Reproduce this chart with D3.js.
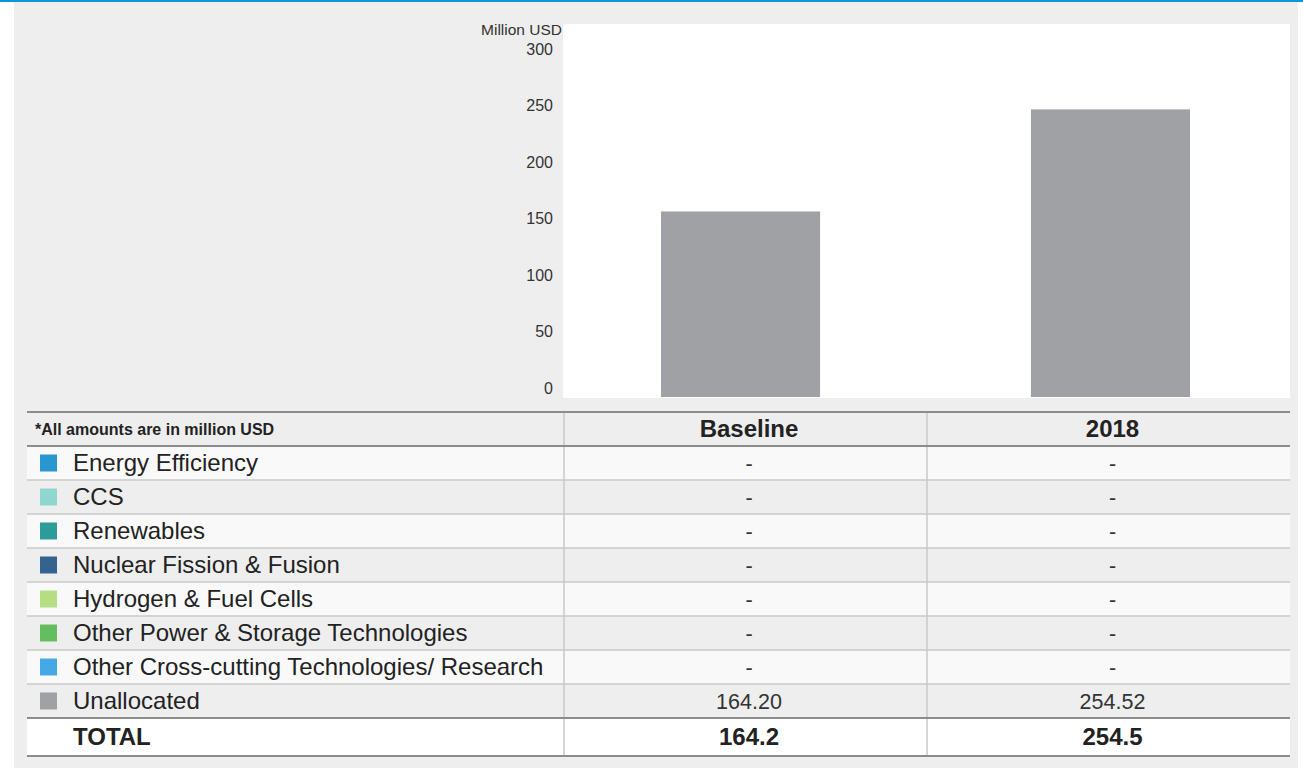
<!DOCTYPE html>
<meta charset="utf-8">
<style>
body { margin: 0; background: #fff; }
svg { display: block; font-family: "Liberation Sans", Arial, sans-serif; }
.axis text { fill: #333; font-size: 16px; }
.axis path, .axis line { display: none; }
</style>
<body>
<svg width="1303" height="768"></svg>
<script src="https://cdn.jsdelivr.net/npm/d3@7"></script>
<script>

// Chart data
var years = ["Baseline", "2018"];
var categories = ["Energy Efficiency", "CCS", "Renewables", "Nuclear Fission & Fusion",
  "Hydrogen & Fuel Cells", "Other Power & Storage Technologies",
  "Other Cross-cutting Technologies/ Research", "Unallocated"];
var categoryColors = ["#2a96d0", "#8fd5d0", "#2e9b9b", "#35638f",
  "#b5dd83", "#64bd5f", "#45a9e5", "#a0a1a5"];
var baselineValues = [null, null, null, null, null, null, null, 164.20];
var values2018 = [null, null, null, null, null, null, null, 254.52];
var yTicks = [0, 50, 100, 150, 200, 250, 300];

var totals = [d3.sum(baselineValues), d3.sum(values2018)];

var svg = d3.select("svg");

// page background and top rule
svg.append("rect").attr("x", 14).attr("y", 0).attr("width", 1284).attr("height", 768).attr("fill", "#eeeeee");
svg.append("rect").attr("x", 0).attr("y", 0).attr("width", 1303).attr("height", 2).attr("fill", "#0a96d8");

// plot area
var plot = {left: 563, right: 1290, top: 24, bottom: 397};
svg.append("rect")
  .attr("x", plot.left).attr("y", plot.top)
  .attr("width", plot.right - plot.left).attr("height", plot.bottom - plot.top + 1)
  .attr("fill", "#fff");

var x = d3.scaleBand().domain(years).range([plot.left, plot.right])
  .paddingInner(0.57).paddingOuter(0.2676).align(0.495);
var y = d3.scaleLinear().domain([0, 300]).range([plot.bottom, 58]);

svg.selectAll(".bar")
  .data(years)
  .enter().append("rect")
    .attr("class", "bar")
    .attr("x", function(d) { return x(d); })
    .attr("width", x.bandwidth())
    .attr("y", function(d, i) { return y(totals[i]); })
    .attr("height", function(d, i) { return y(0) - y(totals[i]); })
    .attr("fill", "#a0a1a5");

// y axis (labels sit a little above their tick)
svg.append("g")
  .attr("class", "axis")
  .attr("transform", "translate(553,-9)")
  .call(d3.axisLeft(y).tickValues(yTicks).tickSize(0).tickPadding(0));

svg.append("text")
  .attr("x", 562).attr("y", 30).attr("dy", "0.35em")
  .attr("text-anchor", "end")
  .style("font-size", "15.5px").style("fill", "#333")
  .text("Million USD");

// table
var tbl = {left: 27, right: 1290, top: 412, headH: 34, rowH: 34, totalH: 38};
var colX = [564, 927, 1290];
var colMid = [(colX[0] + colX[1]) / 2 + 3.5, (colX[1] + colX[2]) / 2 + 4];

svg.append("rect").attr("x", tbl.left).attr("y", tbl.top)
  .attr("width", tbl.right - tbl.left).attr("height", tbl.headH).attr("fill", "#eeeeee");

var rowTop = function(i) { return tbl.top + tbl.headH + i * tbl.rowH; };
var totalTop = rowTop(categories.length);

var rows = svg.selectAll(".row")
  .data(categories)
  .enter().append("g")
    .attr("class", "row")
    .attr("transform", function(d, i) { return "translate(0," + rowTop(i) + ")"; });

rows.append("rect")
  .attr("x", tbl.left).attr("width", tbl.right - tbl.left).attr("height", tbl.rowH)
  .attr("fill", function(d, i) { return i % 2 ? "#eeeeee" : "#f9f9f9"; });

rows.append("rect")
  .attr("x", 40).attr("y", tbl.rowH / 2 - 8.5).attr("width", 17).attr("height", 17)
  .attr("fill", function(d, i) { return categoryColors[i]; });

rows.append("text")
  .attr("x", 73).attr("y", tbl.rowH / 2).attr("dy", "0.35em")
  .style("font-size", "24px").style("fill", "#222")
  .text(function(d) { return d; });

var fmt = function(v) { return v == null ? "-" : d3.format(".2f")(v); };
[baselineValues, values2018].forEach(function(vals, c) {
  rows.append("text")
    .attr("x", colMid[c]).attr("y", tbl.rowH / 2).attr("dy", "0.35em")
    .attr("text-anchor", "middle")
    .style("font-size", "21.5px").style("fill", "#333")
    .text(function(d, i) { return fmt(vals[i]); });
});

// total row
svg.append("rect").attr("x", tbl.left).attr("y", totalTop)
  .attr("width", tbl.right - tbl.left).attr("height", tbl.totalH).attr("fill", "#fff");
svg.append("text")
  .attr("x", 73).attr("y", totalTop + tbl.totalH / 2).attr("dy", "0.35em")
  .style("font-size", "24px").style("font-weight", "bold").style("fill", "#222")
  .text("TOTAL");
svg.selectAll(".total")
  .data(totals)
  .enter().append("text")
    .attr("x", function(d, i) { return colMid[i]; })
    .attr("y", totalTop + tbl.totalH / 2).attr("dy", "0.35em")
    .attr("text-anchor", "middle")
    .style("font-size", "24px").style("font-weight", "bold").style("fill", "#222")
    .text(function(d) { return d3.format(".1f")(d); });

// header
svg.append("text")
  .attr("x", 35).attr("y", tbl.top + tbl.headH / 2).attr("dy", "0.35em")
  .style("font-size", "16px").style("font-weight", "bold").style("fill", "#222")
  .text("*All amounts are in million USD");
svg.selectAll(".head")
  .data(years)
  .enter().append("text")
    .attr("x", function(d, i) { return colMid[i]; })
    .attr("y", tbl.top + tbl.headH / 2).attr("dy", "0.35em")
    .attr("text-anchor", "middle")
    .style("font-size", "24px").style("font-weight", "bold").style("fill", "#222")
    .text(function(d) { return d; });

// grid lines
var tblBottom = totalTop + tbl.totalH;
colX.slice(0, 2).forEach(function(cx) {
  svg.append("line").attr("x1", cx).attr("x2", cx).attr("y1", tbl.top).attr("y2", tblBottom)
    .attr("stroke", "#c8c8c8").attr("stroke-width", 1.5);
});
d3.range(1, categories.length).forEach(function(i) {
  svg.append("line").attr("x1", tbl.left).attr("x2", tbl.right)
    .attr("y1", rowTop(i)).attr("y2", rowTop(i))
    .attr("stroke", "#c8c8c8").attr("stroke-width", 1.5);
});
[tbl.top, rowTop(0), totalTop, tblBottom].forEach(function(ly) {
  svg.append("line").attr("x1", tbl.left).attr("x2", tbl.right)
    .attr("y1", ly).attr("y2", ly)
    .attr("stroke", "#8c8c8c").attr("stroke-width", 2);
});

</script>
